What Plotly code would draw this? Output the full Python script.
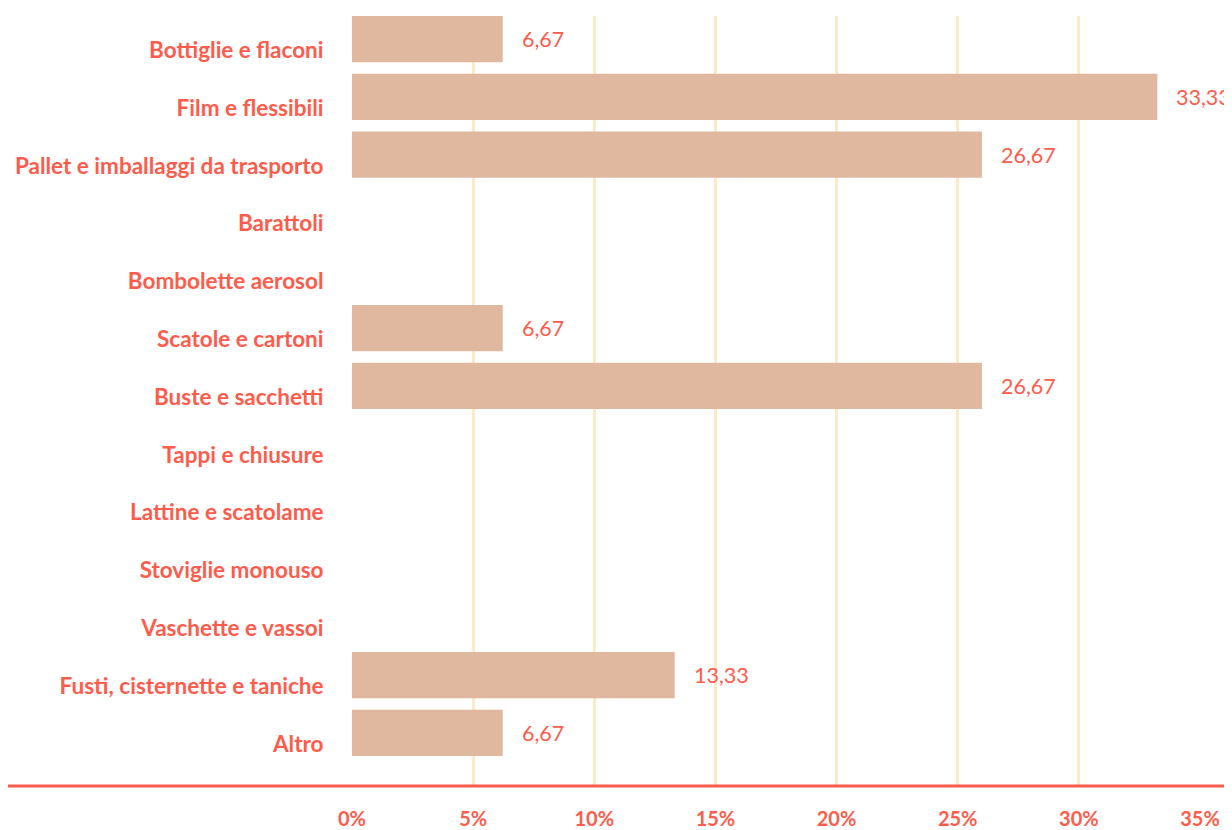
import plotly.graph_objects as go

categories = [
    "Bottiglie e flaconi",
    "Film e flessibili",
    "Pallet e imballaggi da trasporto",
    "Barattoli",
    "Bombolette aerosol",
    "Scatole e cartoni",
    "Buste e sacchetti",
    "Tappi e chiusure",
    "Lattine e scatolame",
    "Stoviglie monouso",
    "Vaschette e vassoi",
    "Fusti, cisternette e taniche",
    "Altro",
]
# bar lengths as drawn in the reference (percent)
bar_values = [6.22, 33.24, 26.0, None, None, 6.22, 26.0, None, None, None, None, 13.32, 6.22]
# value labels as printed
value_labels = ["6,67", "33,33", "26,67", "", "", "6,67", "26,67", "", "", "", "", "13,33", "6,67"]
tick_vals = [0, 5, 10, 15, 20, 25, 30, 35]
tick_text = ["0%", "5%", "10%", "15%", "20%", "25%", "30%", "35%"]

CORAL = "#fd5c4c"
BAR = "#e0b8a0"
GRID = "#fdebc7"
FONT = "Lato"

fig = go.Figure()
fig.add_trace(go.Bar(
    y=categories,
    x=[v if v is not None else 0 for v in bar_values],
    orientation="h",
    marker=dict(color=BAR, line=dict(width=0)),
    hoverinfo="skip",
))

for cat, v, lab in zip(categories, bar_values, value_labels):
    if v is None:
        continue
    fig.add_annotation(
        x=v, y=cat, text=lab, showarrow=False,
        xanchor="left", yanchor="middle", xshift=17,
        font=dict(family=FONT, size=21.5, color=CORAL),
    )

# page has an 8px body margin, so the figure is sized to fill the rest
W, H = 1224, 822
L, R, T, B = 344, 32, 8, 44
plot_w = W - L - R
fig.add_shape(
    type="line", xref="paper", yref="paper",
    x0=-L / plot_w, x1=(W - L) / plot_w, y0=0, y1=0,
    line=dict(color=CORAL, width=3),
)

fig.update_layout(
    width=W, height=H,
    margin=dict(l=L, r=R, t=T, b=B, autoexpand=False),
    plot_bgcolor="white", paper_bgcolor="white",
    bargap=0.2,
    showlegend=False,
    font=dict(family=FONT, color=CORAL),
    xaxis=dict(
        range=[0, 35], tickvals=tick_vals, ticktext=tick_text,
        showgrid=True, gridcolor=GRID, gridwidth=3,
        zeroline=False, showline=False, automargin=False,
        ticks="outside", ticklen=15, tickcolor="rgba(0,0,0,0)",
        tickfont=dict(family=FONT, size=20, color=CORAL, weight="bold"),
    ),
    yaxis=dict(
        type="category", range=[12.92, -0.4],
        showgrid=False, zeroline=False, showline=False, automargin=False,
        ticks="outside", ticklen=23, tickcolor="rgba(0,0,0,0)",
        ticklabelshift=-11,
        tickfont=dict(family=FONT, size=22.5, color=CORAL, weight="bold"),
    ),
)

fig.write_html("out.html")
